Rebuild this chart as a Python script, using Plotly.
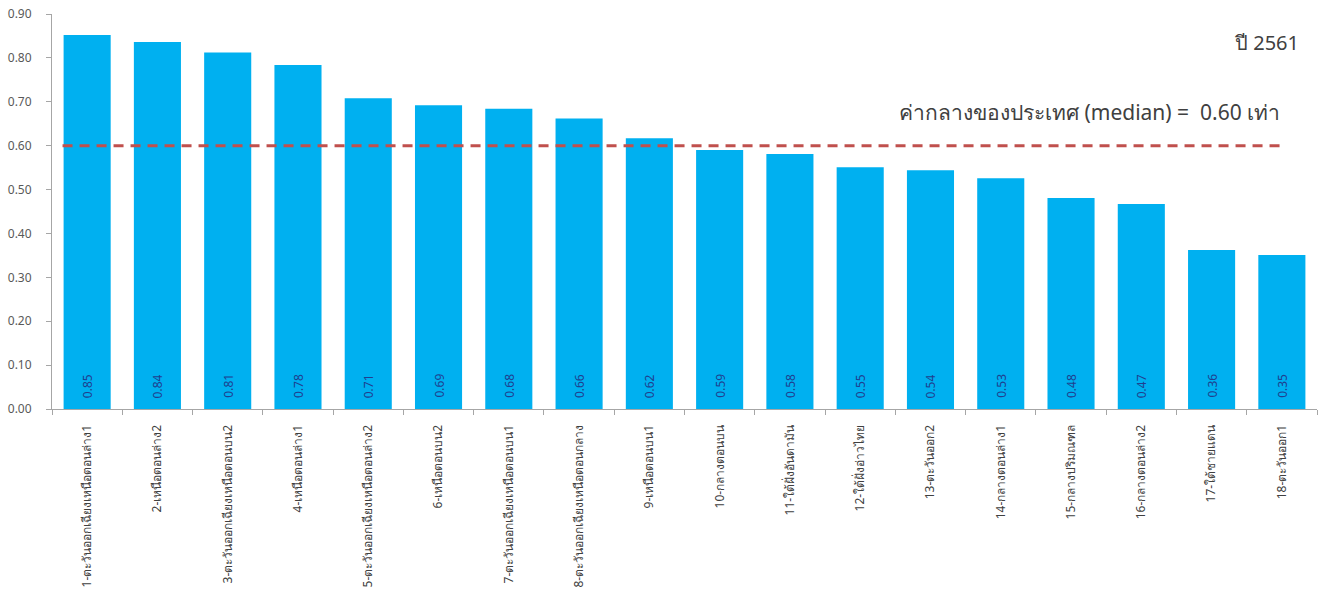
import plotly.graph_objects as go

categories = [
    "1-ตะวันออกเฉียงเหนือตอนล่าง1",
    "2-เหนือตอนล่าง2",
    "3-ตะวันออกเฉียงเหนือตอนบน2",
    "4-เหนือตอนล่าง1",
    "5-ตะวันออกเฉียงเหนือตอนล่าง2",
    "6-เหนือตอนบน2",
    "7-ตะวันออกเฉียงเหนือตอนบน1",
    "8-ตะวันออกเฉียงเหนือตอนกลาง",
    "9-เหนือตอนบน1",
    "10-กลางตอนบน",
    "11-ใต้ฝั่งอันดามัน",
    "12-ใต้ฝั่งอ่าวไทย",
    "13-ตะวันออก2",
    "14-กลางตอนล่าง1",
    "15-กลางปริมณฑล",
    "16-กลางตอนล่าง2",
    "17-ใต้ชายแดน",
    "18-ตะวันออก1",
]
values = [0.852, 0.836, 0.812, 0.784, 0.708, 0.692, 0.684, 0.662, 0.617,
          0.590, 0.581, 0.551, 0.544, 0.526, 0.481, 0.467, 0.362, 0.351]
median = 0.60
year_label = "ปี 2561"
median_label = "ค่ากลางของประเทศ (median) =  0.60 เท่า"
y_ticks = [0.0, 0.1, 0.2, 0.3, 0.4, 0.5, 0.6, 0.7, 0.8, 0.9]

font_family = "Tahoma, Noto Sans, Open Sans, sans-serif"

fig = go.Figure()
fig.add_trace(go.Bar(
    x=categories,
    y=values,
    marker=dict(color="#00B0F0", line=dict(width=0)),
    hoverinfo="x+y",
))

# value labels at the bottom of each bar, rotated
for c, v in zip(categories, values):
    fig.add_annotation(
        x=c, y=0, xref="x", yref="y",
        text=f"{v:.2f}", showarrow=False, textangle=-90,
        xanchor="center", yanchor="bottom", yshift=9,
        font=dict(size=12, color="#1F3F8F", family=font_family),
    )

fig.add_shape(
    type="line", xref="x", yref="y",
    x0=-0.35, x1=len(categories) - 1, y0=median, y1=median,
    line=dict(color="#C0504D", width=3, dash="10px,7px"),
)

fig.add_annotation(
    x=len(categories) - 1, y=0.677, xref="x", yref="y",
    text=median_label, showarrow=False, xanchor="right", yanchor="middle",
    font=dict(size=21, color="#404040", family=font_family),
)
fig.add_annotation(
    x=1.0, y=0.836, xref="paper", yref="y",
    text=year_label, showarrow=False, xanchor="right", yanchor="middle",
    xshift=-16,
    font=dict(size=20, color="#404040", family=font_family),
)

fig.update_layout(
    width=1327, height=591,
    margin=dict(l=52, r=10, t=14, b=182, autoexpand=False),
    paper_bgcolor="white", plot_bgcolor="white",
    bargap=0.33,
    showlegend=False,
    font=dict(family=font_family, color="#595959"),
)
fig.update_xaxes(
    tickangle=-90,
    tickfont=dict(size=12, color="#404040"),
    showline=True, linecolor="#A6A6A6", linewidth=1,
    ticks="outside", ticklen=5, tickcolor="#A6A6A6",
    tickson="boundaries",
    ticklabelstandoff=10,
    showgrid=False,
    automargin=False,
)
fig.update_yaxes(
    range=[0, 0.9],
    tickvals=y_ticks,
    tickformat=".2f",
    tickfont=dict(size=12, color="#595959"),
    showline=True, linecolor="#A6A6A6", linewidth=1,
    ticks="outside", ticklen=5, tickcolor="#A6A6A6",
    ticklabelstandoff=12,
    ticklabeloverflow="allow",
    showgrid=False, zeroline=False,
    automargin=False,
)

fig.write_html(
    "out.html",
    config={"displayModeBar": False},
    post_script="document.body.style.margin='0';document.body.style.overflow='hidden';",
)
